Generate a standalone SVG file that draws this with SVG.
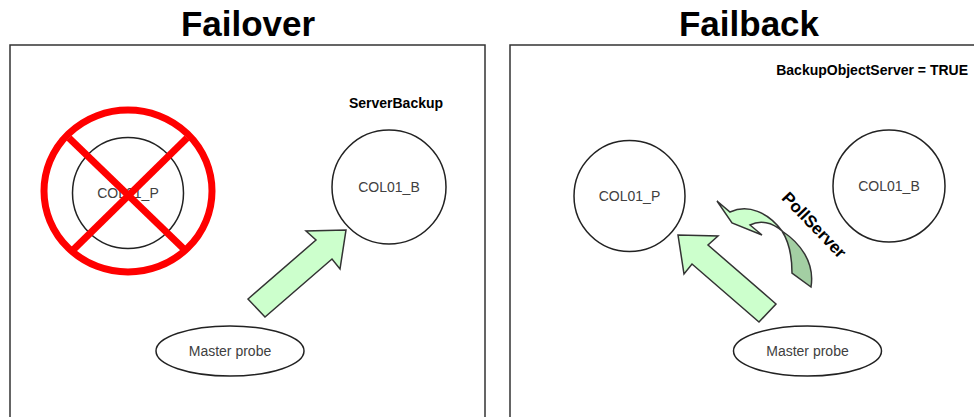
<svg xmlns="http://www.w3.org/2000/svg" width="974" height="417" viewBox="0 0 974 417">
<style>
.title{font-family:"Liberation Sans",Arial,sans-serif;font-weight:bold;font-size:35px;fill:#000;text-anchor:middle}
.lbl{font-family:"Liberation Sans",Arial,sans-serif;font-size:14px;fill:#404040;text-anchor:middle}
.blbl{font-family:"Liberation Sans",Arial,sans-serif;font-weight:bold;font-size:14px;fill:#000}
.frame{fill:#fff;stroke:#333;stroke-width:1.5}
.node{fill:#fff;stroke:#222;stroke-width:1.5}
.arrow{fill:#ccffcc;stroke:#333;stroke-width:1.5;stroke-linejoin:miter}
.dark{fill:#a3cfa3;stroke:#333;stroke-width:1.5}
.red{fill:none;stroke:#ff0000;stroke-width:7}
</style>
<rect width="974" height="417" fill="#fff"/>
<g id="failover-panel">
  <text class="title" x="248" y="36">Failover</text>
  <rect class="frame" x="10" y="45" width="475" height="380"/>
</g>
<g id="failback-panel">
  <text class="title" x="749" y="36">Failback</text>
  <rect class="frame" x="510" y="45" width="470" height="380"/>
  <text class="blbl" x="968" y="75" text-anchor="end">BackupObjectServer = TRUE</text>
</g>
<g id="left-col01p">
  <circle class="node" cx="128" cy="193" r="55.5"/>
  <text class="lbl" x="128" y="198">COL01_P</text>
  <ellipse class="red" cx="128" cy="191" rx="84" ry="81"/>
  <line class="red" x1="69" y1="138" x2="187" y2="252"/>
  <line class="red" x1="187" y1="138" x2="71" y2="252"/>
</g>
<g id="left-col01b">
  <text class="blbl" x="396" y="108" text-anchor="middle">ServerBackup</text>
  <circle class="node" cx="389" cy="187" r="57"/>
  <text class="lbl" x="389" y="192">COL01_B</text>
</g>
<g id="left-master">
  <ellipse class="node" cx="230" cy="351" rx="74" ry="25"/>
  <text class="lbl" x="230" y="356">Master probe</text>
</g>
<g id="right-col01p">
  <circle class="node" cx="629.5" cy="196" r="55.5"/>
  <text class="lbl" x="629.5" y="201">COL01_P</text>
</g>
<g id="right-col01b">
  <circle class="node" cx="889" cy="186" r="56"/>
  <text class="lbl" x="889" y="191">COL01_B</text>
</g>
<g id="right-master">
  <ellipse class="node" cx="807.5" cy="351" rx="74" ry="25"/>
  <text class="lbl" x="807.5" y="356">Master probe</text>
</g>
<g id="connectors">
  <polygon class="arrow" points="248,299 316,240 306,231 346,230 340,269 332,259 265,317"/>
  <polygon class="arrow" points="776,304 708,245 718,236 678,235 684,274 692,264 759,322"/>
  <path class="dark" d="M782,231 C800,243 815,262 811,287 L792,273 C792,258 789,242 782,231 Z"/>
  <path class="arrow" d="M717,201 L730,212 C748,204 768,212 782,231 C772,222 760,220 750,225 L762,235 L732,223 Z"/>
  <text class="blbl" x="0" y="0" text-anchor="middle" style="font-size:17px" transform="translate(810,229) rotate(46)">PollServer</text>
</g>
</svg>
